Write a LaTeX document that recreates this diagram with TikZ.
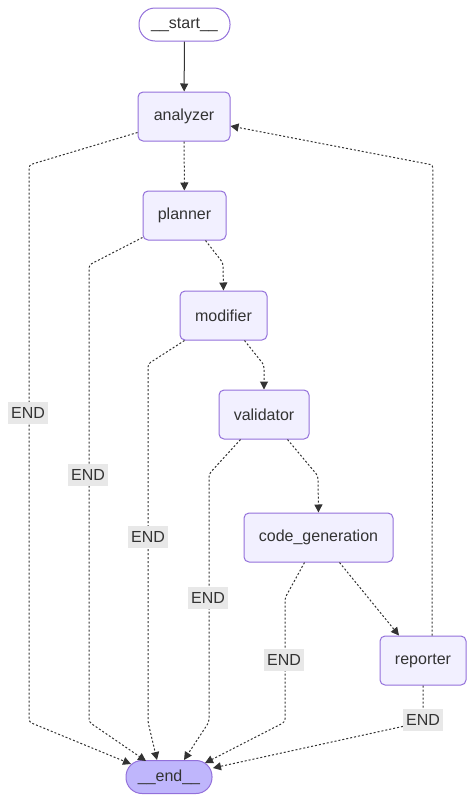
\documentclass[tikz,border=0pt]{standalone}
\usepackage{fontspec}
\setmainfont{Liberation Sans}
\usetikzlibrary{arrows.meta}
\definecolor{nodefill}{HTML}{F2F0FF}
\definecolor{nodeline}{HTML}{9370DB}
\definecolor{endfill}{HTML}{BFB6FC}
\definecolor{ink}{HTML}{333333}
\definecolor{lblbg}{HTML}{E8E8E8}
\begin{document}
\begin{tikzpicture}[x=1pt,y=-1pt,
  font=\fontsize{16}{19}\selectfont, text=ink,
  stepbox/.style={draw=nodeline, fill=nodefill, line width=1pt, rounded corners=5pt, minimum height=49pt, inner sep=0pt},
  termbox/.style={draw=nodeline, line width=1pt, rounded corners=16pt, minimum height=33pt, minimum width=90pt, inner sep=0pt},
  lbl/.style={fill=lblbg, text=ink, minimum width=40pt, minimum height=22pt, inner sep=0pt},
  flow/.style={draw=ink, line width=1pt, dash pattern=on 2pt off 2pt, rounded corners=3pt, -{Triangle[length=8pt,width=8pt]}},
  solidflow/.style={draw=ink, line width=1pt, -{Triangle[length=8pt,width=8pt]}}
]
\useasboundingbox (0,0) rectangle (474,801);

\node[termbox, fill=white, minimum width=91pt] (start) at (184.5,24.5) {\_\_start\_\_};
\node[stepbox, minimum width=92pt] (analyzer) at (184,116.5) {analyzer};
\node[stepbox, minimum width=83pt] (planner) at (184.5,215.5) {planner};
\node[stepbox, minimum width=87pt] (modifier) at (223.5,315.5) {modifier};
\node[stepbox, minimum width=90pt] (validator) at (264,414.5) {validator};
\node[stepbox, minimum width=149pt] (codegen) at (318.5,537.5) {code\_generation};
\node[stepbox, minimum width=86pt] (reporter) at (423,660.5) {reporter};
\node[termbox, fill=endfill, minimum width=86pt] (end) at (169,777) {\_\_end\_\_};

% bend points
\coordinate (a1) at (29,165);   \coordinate (a2) at (29,722);
\coordinate (p1) at (89,265);   \coordinate (p2) at (89,722);
\coordinate (m1) at (148,364);  \coordinate (m2) at (148,722);
\coordinate (v1) at (209,474);  \coordinate (v2) at (209,722);
\coordinate (c1) at (285,598);  \coordinate (c2) at (285,722);
\coordinate (r1) at (423,722);
\coordinate (b1) at (433,165);
\coordinate (pm) at (223,263);
\coordinate (mv) at (264,365);
\coordinate (vc) at (318,476);

% end points on __end__
\coordinate (e1) at (131,764);
\coordinate (e2) at (146,761);
\coordinate (e3) at (157,760);
\coordinate (e4) at (184,760);
\coordinate (e5) at (205,763);
\coordinate (e6) at (213,768);

% main chain
\draw[solidflow] (start) -- (analyzer);
\draw[flow] (analyzer) -- (planner);
\draw[flow] (planner.south east)++(-21,0) coordinate (ps) (ps) -- (pm) -- (modifier.north);
\draw[flow] (modifier.south east)++(-23,0) coordinate (ms) (ms) -- (mv) -- (validator.north);
\draw[flow] (validator.south east)++(-22,0) coordinate (vs) (vs) -- (vc) -- (codegen.north);
\draw[flow] (codegen.south east)++(-54,0) coordinate (cs) (cs) -- ([xshift=-24pt]reporter.north);
\draw[flow] ([xshift=9pt]reporter.north) -- (b1) -- ([yshift=-9.5pt]analyzer.east);

% exits to END
\draw[flow] ([yshift=-16pt]analyzer.west) -- (a1) -- (a2) -- (e1);
\draw[flow] ([yshift=3pt]planner.south west) -- (p1) -- (p2) -- (e2);
\draw[flow] ([xshift=5pt]modifier.south west) -- (m1) -- (m2) -- (e3);
\draw[flow] ([xshift=22pt]validator.south west) -- (v1) -- (v2) -- (e4);
\draw[flow] ([xshift=61pt]codegen.south west) -- (c1) -- (c2) -- (e5);
\draw[flow] (reporter.south) -- (r1) -- (e6);

% labels
\node[lbl] (l1) at (28,413) {END};
\node[lbl] (l2) at (88,475) {END};
\node[lbl] (l3) at (148,537) {END};
\node[lbl] (l4) at (208,598) {END};
\node[lbl] (l5) at (284,660) {END};
\node[lbl] (l6) at (423,720) {END};
\end{tikzpicture}
\end{document}
